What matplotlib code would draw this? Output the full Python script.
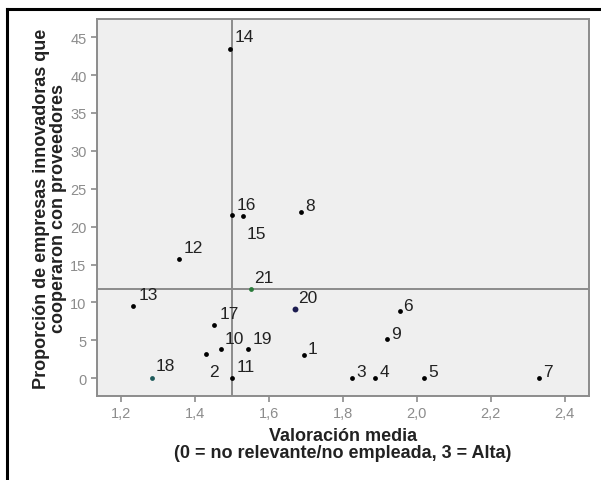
import matplotlib
matplotlib.use('Agg')
import matplotlib.pyplot as plt
from matplotlib.lines import Line2D
from matplotlib.ticker import FuncFormatter

# data
labels = ['1', '2', '3', '4', '5', '6', '7', '8', '9', '10', '11',
          '12', '13', '14', '15', '16', '17', '18', '19', '20', '21']
valoracion = [1.695, 1.430, 1.826, 1.888, 2.020, 1.954, 2.331, 1.687, 1.921, 1.470, 1.501,
              1.357, 1.233, 1.496, 1.530, 1.500, 1.453, 1.284, 1.545, 1.670, 1.552]
proporcion = [3.1, 3.2, 0.0, 0.0, 0.0, 8.9, 0.0, 21.9, 5.2, 3.8, 0.0,
              15.8, 9.6, 43.5, 21.4, 21.6, 7.0, 0.0, 3.8, 9.2, 11.8]
ref_x = 1.5
ref_y = 11.8

# label offsets in pixels (text baseline relative to point)
offsets = {'1': (4, 2), '2': (3, -22), '3': (4, 2), '4': (4, 2), '5': (4, 2),
           '6': (4, 1), '7': (4, 2), '8': (4, 2), '9': (4, 1), '10': (4, 6),
           '11': (5, 7), '12': (5, 7), '13': (6, 7), '14': (4, 8), '15': (4, -22),
           '16': (5, 6), '17': (5, 7), '18': (4, 8), '19': (4, 6), '20': (4, 7),
           '21': (3, 7)}
colors = {'18': '#1e5a5a', '20': '#1c1c50', '21': '#2a7a3a'}

plt.rcParams['font.family'] = ['Liberation Sans', 'DejaVu Sans']

fig = plt.figure(figsize=(6.01, 4.81), dpi=100)
ax = fig.add_axes([97 / 601, 1 - 397 / 481, 492 / 601, 377 / 481])
ax.set_facecolor('#efefef')

ax.axvline(ref_x, color='#8c8c8c', lw=1.4, zorder=1)
ax.axhline(ref_y, color='#8c8c8c', lw=1.4, zorder=1)

for lab, x, y in zip(labels, valoracion, proporcion):
    c = colors.get(lab, 'black')
    ax.scatter(x, y, s=12 if lab != '20' else 18, color=c, zorder=3, linewidths=0)
    ax.annotate(lab, (x, y), xytext=offsets[lab], textcoords='offset pixels',
                ha='left', va='baseline', fontsize=12.5, color='#222222')

ax.set_xlim(1.136, 2.466)
ax.set_ylim(-2.34, 47.4)
ax.set_xticks([1.2, 1.4, 1.6, 1.8, 2.0, 2.2, 2.4])
ax.set_yticks([0, 5, 10, 15, 20, 25, 30, 35, 40, 45])
ax.xaxis.set_major_formatter(FuncFormatter(lambda v, p: '{:.1f}'.format(v).replace('.', ',')))

for s in ax.spines.values():
    s.set_color('#8c8c8c')
    s.set_linewidth(1.4)
ax.tick_params(colors='#8c8c8c', labelcolor='#8c8c8c', labelsize=10.5, length=4, width=1.2)

ax.set_xlabel('Valoración media\n(0 = no relevante/no empleada, 3 = Alta)',
              fontsize=13, fontweight='bold', color='#222222', labelpad=5, linespacing=0.95)
ax.set_ylabel('Proporción de empresas innovadoras que\ncooperaron con proveedores',
              fontsize=13, fontweight='bold', color='#222222', labelpad=2, linespacing=1.0)

# black frame of the original figure, top and left only
fig.add_artist(Line2D([7 / 601, 1], [1 - 10 / 481, 1 - 10 / 481], color='black', lw=2.2,
                      transform=fig.transFigure))
fig.add_artist(Line2D([7 / 601, 7 / 601], [0, 1 - 10 / 481], color='black', lw=2.2,
                      transform=fig.transFigure))

fig.savefig('out.png', dpi=100)
